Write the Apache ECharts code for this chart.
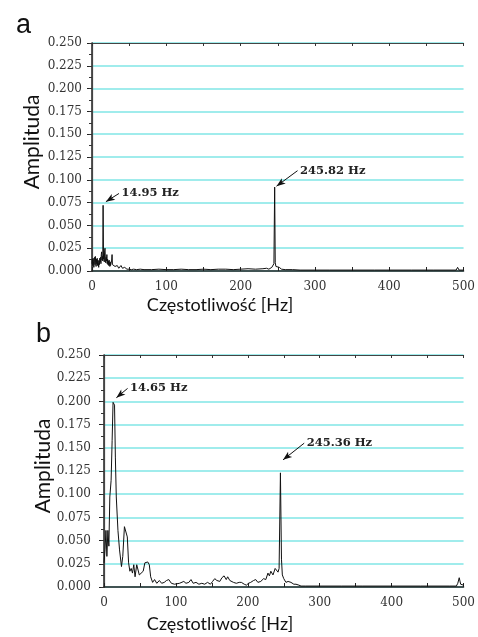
<!DOCTYPE html>
<html><head><meta charset="utf-8">
<script src="https://cdn.jsdelivr.net/npm/echarts@6/dist/echarts.min.js"></script>
<style>html,body{margin:0;padding:0;background:#fff}#c{width:478px;height:637px}</style>
</head><body><div id="c"></div>
<script>
// Panel a spectrum
const freqA = [0,0.5,1,1.5,2,2.5,3,3.5,4,4.5,5,5.5,6,6.5,7,7.5,8,8.5,9,9.5,10,10.5,11,11.5,12,12.5,13,13.5,14,14.5,14.95,15.5,16,16.5,17,17.5,18,18.5,19,19.5,20,20.5,21,21.5,22,22.5,23,23.5,24,24.5,25,25.5,26,26.5,27,27.5,28,29,30,31,32,33,34,35,36,37,38,39,40,41,42,43,44,45,46,47,48,49,50,53,56,60,65,70,80,90,100,110,120,130,140,150,160,170,180,190,200,210,220,230,235,238,240,242,243,244,244.8,245.82,246.6,247.5,248.5,250,252,255,260,270,280,300,320,350,380,400,430,460,490,492,494,500];
const ampA  = [0.008,0.013,0.006,0.014,0.010,0.004,0.012,0.015,0.007,0.016,0.009,0.005,0.013,0.008,0.014,0.006,0.012,0.009,0.004,0.011,0.007,0.014,0.010,0.015,0.008,0.018,0.021,0.012,0.016,0.011,0.072,0.013,0.017,0.010,0.022,0.025,0.012,0.009,0.015,0.011,0.018,0.008,0.013,0.007,0.011,0.006,0.012,0.009,0.005,0.010,0.006,0.008,0.005,0.012,0.018,0.007,0.009,0.006,0.009,0.005,0.007,0.004,0.006,0.005,0.003,0.005,0.003,0.006,0.004,0.003,0.004,0.002,0.004,0.003,0.004,0.002,0.003,0.002,0.002,0.0015,0.002,0.0015,0.002,0.0015,0.0015,0.002,0.0015,0.0015,0.002,0.0015,0.0015,0.002,0.0015,0.002,0.002,0.0015,0.002,0.0025,0.002,0.0025,0.003,0.002,0.003,0.004,0.003,0.006,0.008,0.092,0.009,0.005,0.006,0.003,0.004,0.002,0.0015,0.0015,0.001,0.001,0.001,0.001,0.001,0.001,0.001,0.001,0.001,0.004,0.001,0.001];

// Panel b spectrum
const freqB = [0,1.4,2.7,4,5.4,6.8,8.1,9.9,11.3,12.6,13.6,14.65,15.8,17.1,19.4,21.6,24.3,26.1,28.4,30.6,32.4,34.2,36,37.8,39.6,41.4,43.2,45.5,47.3,49.1,51.8,54.5,56.8,59,60.8,63,64.9,67.6,70.3,73.4,77,80.2,83.8,86.9,90.1,93.7,98,105,111,114,118,121,124,128,132,136,140,144,148,151,154,157,161,164,167,170,172,175,177,180,184,188,191,195,198,201,204,208,211,214,218,222,225,228,230,232,235,238,240,242,243.5,245.36,246.8,248,250,253,256,258,260,264,267,271,274,280,300,330,360,400,440,480,490,492,494,496,500];
const ampB  = [0.026,0.040,0.061,0.033,0.061,0.044,0.097,0.115,0.158,0.199,0.200,0.196,0.140,0.097,0.061,0.040,0.022,0.033,0.065,0.067,0.054,0.026,0.017,0.020,0.015,0.024,0.011,0.024,0.026,0.013,0.011,0.017,0.026,0.024,0.027,0.024,0.011,0.005,0.008,0.004,0.007,0.004,0.005,0.007,0.008,0.004,0.003,0.004,0.006,0.004,0.005,0.008,0.004,0.005,0.003,0.004,0.003,0.005,0.003,0.006,0.009,0.007,0.006,0.010,0.012,0.008,0.011,0.007,0.006,0.005,0.004,0.005,0.005,0.003,0.002,0.004,0.005,0.007,0.008,0.005,0.006,0.009,0.008,0.015,0.012,0.017,0.013,0.020,0.022,0.016,0.020,0.123,0.030,0.013,0.009,0.005,0.006,0.004,0.005,0.003,0.003,0.002,0.001,0.001,0.001,0.001,0.001,0.001,0.001,0.001,0.001,0.004,0.010,0.003,0.002];

const yTicks = [0,0.025,0.05,0.075,0.1,0.125,0.15,0.175,0.2,0.225,0.25];
const xTicks = [0,100,200,300,400,500];
const peakLabelsA = ['14.95 Hz','245.82 Hz'];
const peakLabelsB = ['14.65 Hz','245.36 Hz'];
const panelLetters = ['a','b'];
const yTitle = 'Amplituda';
const xTitle = 'Częstotliwość [Hz]';

const serif = 'DejaVu Serif';
const sans = 'Lato';
const gridColor = '#80e6e6';

function leftY(gi, margin){
  return {type:'value', gridIndex:gi, min:0, max:0.25, interval:0.025, position:'left',
    axisLine:{show:true, lineStyle:{color:'#222', width:1.5}},
    axisTick:{show:true, inside:false, length:5, lineStyle:{color:'#222'}},
    minorTick:{show:true, splitNumber:2, length:3, lineStyle:{color:'#222'}},
    axisLabel:{margin:margin, fontFamily:serif, fontSize:12, color:'#333', formatter:v=>v.toFixed(3)},
    splitLine:{show:true, lineStyle:{color:gridColor, width:1.5}}};
}
function rightY(gi){
  return {type:'value', gridIndex:gi, min:0, max:0.25, interval:0.0125, position:'right',
    axisLine:{show:true, lineStyle:{color:'#444', width:1.2}},
    axisTick:{show:true, inside:true, length:3, lineStyle:{color:'#333'}},
    axisLabel:{show:false}, splitLine:{show:false}};
}
function bottomX(gi){
  return {type:'value', gridIndex:gi, min:0, max:500, interval:100, position:'bottom',
    axisLine:{show:true, onZero:false, lineStyle:{color:'#222', width:1.5}},
    axisTick:{show:true, inside:true, length:4, lineStyle:{color:'#222'}},
    minorTick:{show:true, splitNumber:2, length:4, lineStyle:{color:'#222'}},
    axisLabel:{margin:10, fontFamily:serif, fontSize:12, color:'#333', formatter:v=>String(v)},
    splitLine:{show:false}};
}
function topX(gi){
  return {type:'value', gridIndex:gi, min:0, max:500, interval:50, position:'top',
    axisLine:{show:true, onZero:false, lineStyle:{color:'#444', width:1.2}},
    axisTick:{show:true, inside:true, length:3, lineStyle:{color:'#333'}},
    axisLabel:{show:false}, splitLine:{show:false}};
}
function arrow(p0, p1){
  return [{coord:p0, symbol:'arrow', symbolSize:[5,9]}, {coord:p1, symbol:'none'}];
}
function tag(p, text){
  return {coord:p, symbol:'circle', symbolSize:1, itemStyle:{color:'rgba(0,0,0,0)'},
    label:{show:true, position:'right', distance:2, formatter:text,
      fontFamily:serif, fontSize:11.5, fontWeight:'bold', color:'#222'}};
}
function series(xi, yi, fr, am, arrows, tags){
  return {type:'line', xAxisIndex:xi, yAxisIndex:yi, data:fr.map((f,i)=>[f, am[i]]),
    symbol:'none', smooth:false, clip:true, lineStyle:{color:'#111', width:1}, animation:false,
    markLine:{silent:true, animation:false, symbol:['arrow','none'], label:{show:false},
      lineStyle:{color:'#111', width:1, type:'solid'}, data:arrows},
    markPoint:{silent:true, animation:false, data:tags}};
}

const chart = echarts.init(document.getElementById('c'), null, {renderer:'canvas'});
chart.setOption({
  backgroundColor:'#fff',
  animation:false,
  grid:[{left:92, top:43, width:383, height:228, containLabel:false},
        {left:104, top:355, width:370, height:232, containLabel:false}],
  xAxis:[bottomX(0), topX(0), bottomX(1), topX(1)],
  yAxis:[leftY(0,10), rightY(0), leftY(1,13), rightY(1)],
  series:[
    series(0, 0, freqA, ampA,
      [arrow([18.7,0.076],[36.3,0.085]), arrow([248.3,0.093],[276.6,0.110])],
      [tag([36.3,0.085],peakLabelsA[0]), tag([276.6,0.110],peakLabelsA[1])]),
    series(2, 2, freqB, ampB,
      [arrow([17.2,0.204],[32.8,0.214]), arrow([249,0.137],[278.4,0.155])],
      [tag([32.8,0.214],peakLabelsB[0]), tag([278.4,0.155],peakLabelsB[1])])
  ],
  graphic:[
    {type:'text', left:16, top:12, style:{text:panelLetters[0], font:'27px "Liberation Sans"', fill:'#111'}},
    {type:'text', left:36, top:321, style:{text:panelLetters[1], font:'27px "Liberation Sans"', fill:'#111'}},
    {type:'text', x:32, y:142, rotation:Math.PI/2, style:{text:yTitle, font:'21px '+sans, fill:'#111', align:'center', verticalAlign:'middle'}},
    {type:'text', x:43, y:466, rotation:Math.PI/2, style:{text:yTitle, font:'21px '+sans, fill:'#111', align:'center', verticalAlign:'middle'}},
    {type:'text', x:220, y:305, style:{text:xTitle, font:'18px '+sans, fill:'#111', align:'center', verticalAlign:'middle'}},
    {type:'text', x:220, y:624, style:{text:xTitle, font:'18px '+sans, fill:'#111', align:'center', verticalAlign:'middle'}}
  ]
});
</script></body></html>
